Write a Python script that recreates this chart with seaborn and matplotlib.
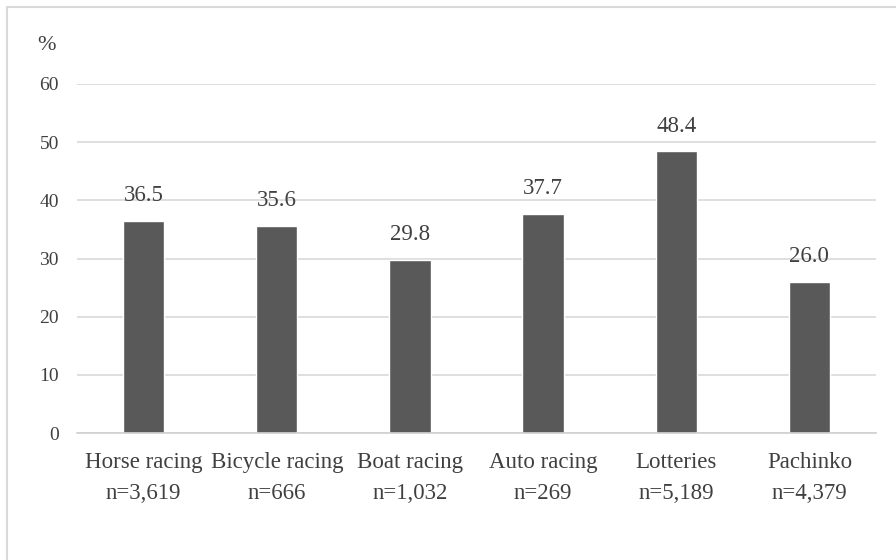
import matplotlib
matplotlib.use("Agg")
import matplotlib.pyplot as plt
from matplotlib.patches import Rectangle
import seaborn as sns
import pandas as pd

categories = ["Horse racing", "Bicycle racing", "Boat racing", "Auto racing", "Lotteries", "Pachinko"]
sample_sizes = ["n=3,619", "n=666", "n=1,032", "n=269", "n=5,189", "n=4,379"]
values = [36.5, 35.6, 29.8, 37.7, 48.4, 26.0]
y_ticks = [0, 10, 20, 30, 40, 50, 60]

sns.set_theme(style="white")
plt.rcParams["font.family"] = ["Liberation Serif", "DejaVu Serif"]

labels = [f"{c}\n{n}" for c, n in zip(categories, sample_sizes)]
df = pd.DataFrame({"label": labels, "value": values})

fig = plt.figure(figsize=(8.96, 5.6), dpi=100)
ax = fig.add_axes([77 / 896, 1 - 433 / 560, (876 - 77) / 896, (433 - 84) / 560])

sns.barplot(data=df, x="label", y="value", color="#595959", width=0.31,
            saturation=1, ax=ax)

text_color = "#404040"
ax.bar_label(ax.containers[0], fmt="%.1f", padding=10.5, fontsize=16.5, color=text_color)

ax.set_ylim(0, 60)
ax.set_yticks(y_ticks)
ax.set_xlim(-0.5, len(categories) - 0.5)
ax.yaxis.grid(True, color="#d9d9d9", linewidth=1.2)
ax.set_axisbelow(True)
for side in ["top", "right", "left"]:
    ax.spines[side].set_visible(False)
ax.spines["bottom"].set_color("#d0d0d0")
ax.spines["bottom"].set_linewidth(1.2)
ax.set_xlabel("")
ax.set_ylabel("")
ax.tick_params(axis="y", length=0, pad=13, labelsize=14, labelcolor=text_color)
ax.tick_params(axis="x", length=0, pad=14, labelsize=16.5, labelcolor=text_color)
for t in ax.get_xticklabels():
    t.set_linespacing(1.6)

fig.text(37 / 896, 1 - 45 / 560, "%", fontsize=16, color=text_color, va="center")

fig.patches.append(Rectangle((7 / 896, -0.1), 1.2, 1 - 7 / 560 + 0.1,
                             transform=fig.transFigure, fill=False,
                             edgecolor="#d9d9d9", linewidth=1.5))

fig.savefig("out.png", dpi=100)
